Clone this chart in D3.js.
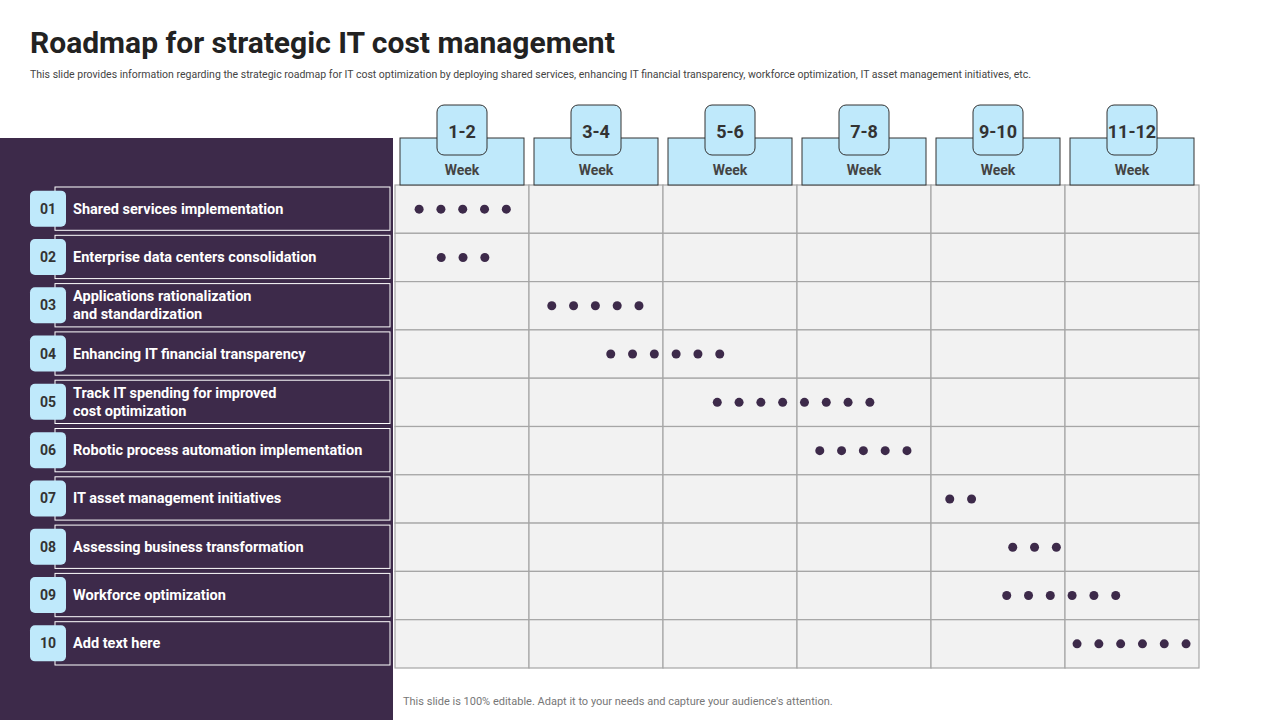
<!DOCTYPE html>
<html>
<head>
<meta charset="utf-8">
<script src="https://cdn.jsdelivr.net/npm/d3@7"></script>
<style>
  body { margin: 0; background: #fff; }
  svg { display: block; font-family: Roboto, "Open Sans", sans-serif; }
</style>
</head>
<body>
<svg id="chart" width="1280" height="720"></svg>
<script>
const periods = ["1-2", "3-4", "5-6", "7-8", "9-10", "11-12"];
const tasks = [
  ["Shared services implementation"],
  ["Enterprise data centers consolidation"],
  ["Applications  rationalization", "and standardization"],
  ["Enhancing IT financial transparency"],
  ["Track IT spending for improved", "cost optimization"],
  ["Robotic process automation implementation"],
  ["IT asset management initiatives"],
  ["Assessing business transformation"],
  ["Workforce optimization"],
  ["Add text here"]
];
// start (in weeks) and number of dots per task
const dotStart = [0.36, 0.69, 2.34, 3.22, 4.81, 6.34, 8.28, 9.22, 9.13, 10.18];
const dotCount = [5, 3, 5, 6, 8, 5, 2, 3, 6, 6];

const dark = "#3d2a4a", blue = "#bfe9fb";
const svg = d3.select("#chart");

svg.append("text").attr("x", 30).attr("y", 53)
  .attr("font-size", 30).attr("font-weight", 700).attr("fill", "#222")
  .text("Roadmap for strategic IT cost management");
svg.append("text").attr("x", 30).attr("y", 78)
  .attr("font-size", 10.5).attr("fill", "#444")
  .text("This slide provides information regarding the strategic roadmap for IT cost optimization by deploying shared services, enhancing IT financial transparency, workforce optimization, IT  asset management initiatives, etc.");

svg.append("rect").attr("x", 0).attr("y", 138).attr("width", 393).attr("height", 582).attr("fill", dark);

const x = d3.scaleLinear().domain([0, 12]).range([395, 1199]);
const y = d3.scaleBand().domain(d3.range(tasks.length)).range([185, 668]);
const colW = x(2) - x(0);

// grid
const grid = svg.append("g");
periods.forEach((p, i) => {
  tasks.forEach((t, j) => {
    grid.append("rect").attr("x", x(i * 2)).attr("y", y(j))
      .attr("width", colW).attr("height", y.bandwidth())
      .attr("fill", "#f2f2f2").attr("stroke", "#a6a6a6").attr("stroke-width", 1.2);
  });
});

// headers
periods.forEach((p, i) => {
  const cx = x(i * 2) + colW / 2;
  svg.append("rect").attr("x", x(i * 2) + 5).attr("y", 138).attr("width", colW - 10).attr("height", 47)
    .attr("fill", blue).attr("stroke", "#333").attr("stroke-width", 1);
  svg.append("rect").attr("x", cx - 25).attr("y", 105).attr("width", 50).attr("height", 50).attr("rx", 7)
    .attr("fill", blue).attr("stroke", "#333").attr("stroke-width", 1);
  svg.append("text").attr("x", cx).attr("y", 138).attr("text-anchor", "middle")
    .attr("font-size", 18).attr("font-weight", 700).attr("fill", "#333").text(p);
  svg.append("text").attr("x", cx).attr("y", 175).attr("text-anchor", "middle")
    .attr("font-size", 14).attr("font-weight", 700).attr("fill", "#444").text("Week");
});

// labels
tasks.forEach((t, j) => {
  const top = y(j) + 2, h = y.bandwidth() - 5, cy = top + h / 2;
  svg.append("rect").attr("x", 55).attr("y", top).attr("width", 335).attr("height", h)
    .attr("fill", "none").attr("stroke", "#fff").attr("stroke-width", 1);
  svg.append("rect").attr("x", 30).attr("y", cy - 18).attr("width", 36).attr("height", 36).attr("rx", 5)
    .attr("fill", blue);
  svg.append("text").attr("x", 48).attr("y", cy + 5).attr("text-anchor", "middle")
    .attr("font-size", 14).attr("font-weight", 700).attr("fill", "#333")
    .text(String(j + 1).padStart(2, "0"));
  const txt = svg.append("text").attr("x", 73).attr("font-size", 14.5).attr("font-weight", 700).attr("fill", "#fff");
  t.forEach((line, k) => {
    txt.append("tspan").attr("x", 73)
      .attr("y", cy + 5 + (k - (t.length - 1) / 2) * 18).text(line);
  });
});

// dots
const dots = svg.append("g").attr("fill", dark);
tasks.forEach((t, j) => {
  d3.range(dotCount[j]).forEach(k => {
    dots.append("circle").attr("cx", x(dotStart[j]) + k * 21.8)
      .attr("cy", y(j) + y.bandwidth() / 2).attr("r", 4.5);
  });
});

svg.append("text").attr("x", 403).attr("y", 705).attr("font-size", 11).attr("fill", "#777")
  .text("This slide is 100% editable. Adapt it to your needs and capture your audience's attention.");
</script>
</body>
</html>
